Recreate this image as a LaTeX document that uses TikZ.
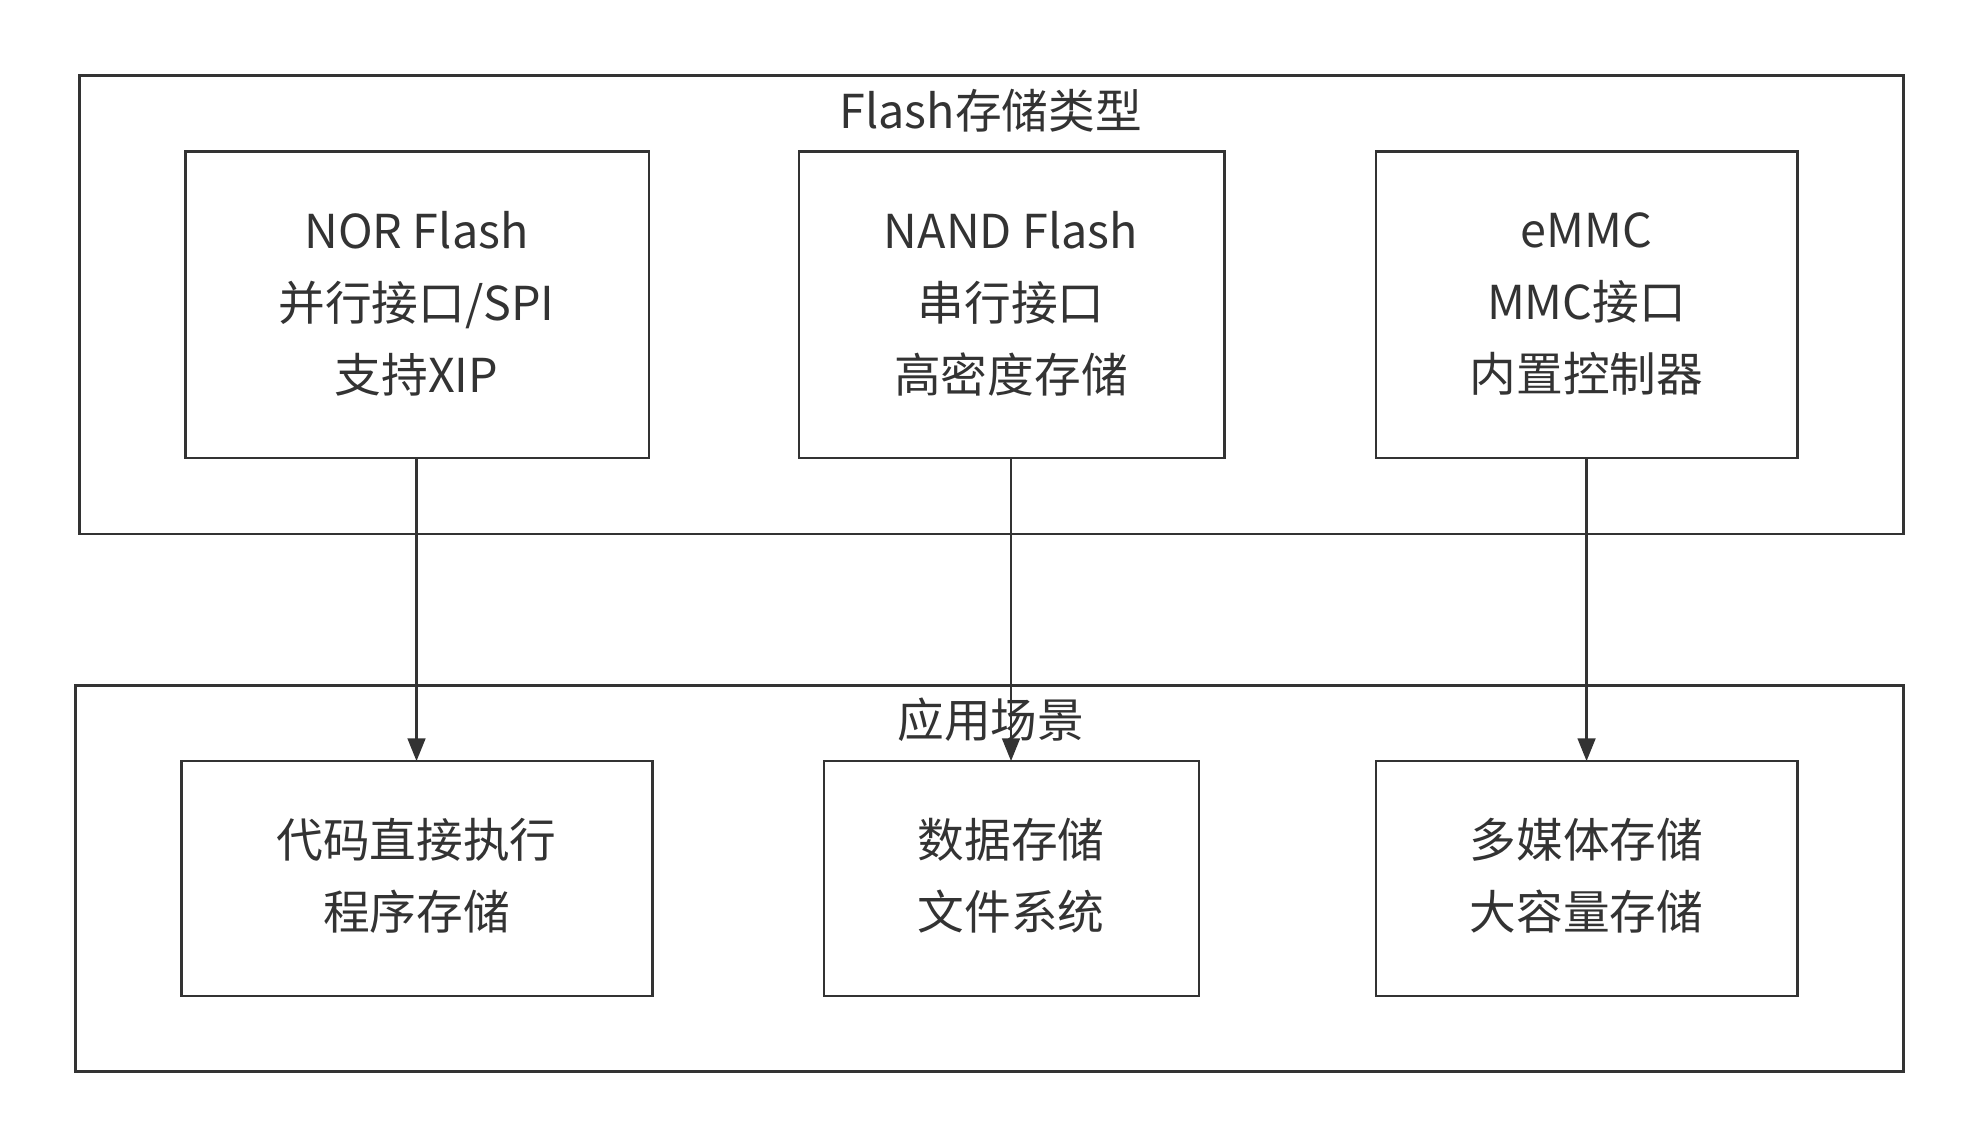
\documentclass[tikz,border=0pt]{standalone}
\usepackage{fontspec}
\setmainfont{Noto Sans CJK SC}
\usetikzlibrary{arrows.meta}
\begin{document}
\begin{tikzpicture}[x=1pt,y=-1pt,
  box/.style={draw=black!80,line width=2pt},
  lbl/.style={font=\fontsize{37}{57}\selectfont,align=center,text=black!80},
  arr/.style={draw=black!80,line width=2pt,-{Triangle[length=18pt,width=14pt]}}]
\useasboundingbox (0,0) rectangle (1560,904);
\draw[box] (63,60) rectangle (1508,423);
\node[lbl] (t1) at (785,88) {Flash存储类型};
\draw[box] (60,543) rectangle (1508,849);
\node[lbl] (t2) at (785,570) {应用场景};
\draw[box] (147,120) rectangle (514,363);
\coordinate (norb) at (330,363); \coordinate (nandb) at (801,363); \coordinate (emmcb) at (1257,363);
\draw[box] (633,120) rectangle (970,363);
\draw[box] (1090,120) rectangle (1424,363);
\node[lbl] (nor) at (330,241) {NOR Flash\\并行接口/SPI\\支持XIP};
\node[lbl] (nand) at (801,241) {NAND Flash\\串行接口\\高密度存储};
\node[lbl] (emmc) at (1257,241) {eMMC\\MMC接口\\内置控制器};
\draw[box] (144,603) rectangle (517,789);
\draw[box] (653,603) rectangle (950,789);
\draw[box] (1090,603) rectangle (1424,789);
\coordinate (codet) at (330,603); \coordinate (datat) at (801,603); \coordinate (mult) at (1257,603);
\node[lbl] (code) at (330,694) {代码直接执行\\程序存储};
\node[lbl] (data) at (801,694) {数据存储\\文件系统};
\node[lbl] (mul) at (1257,694) {多媒体存储\\大容量存储};
\draw[arr] (norb) -- (codet);
\draw[arr] (nandb) -- (datat);
\draw[arr] (emmcb) -- (mult);
\end{tikzpicture}
\end{document}
